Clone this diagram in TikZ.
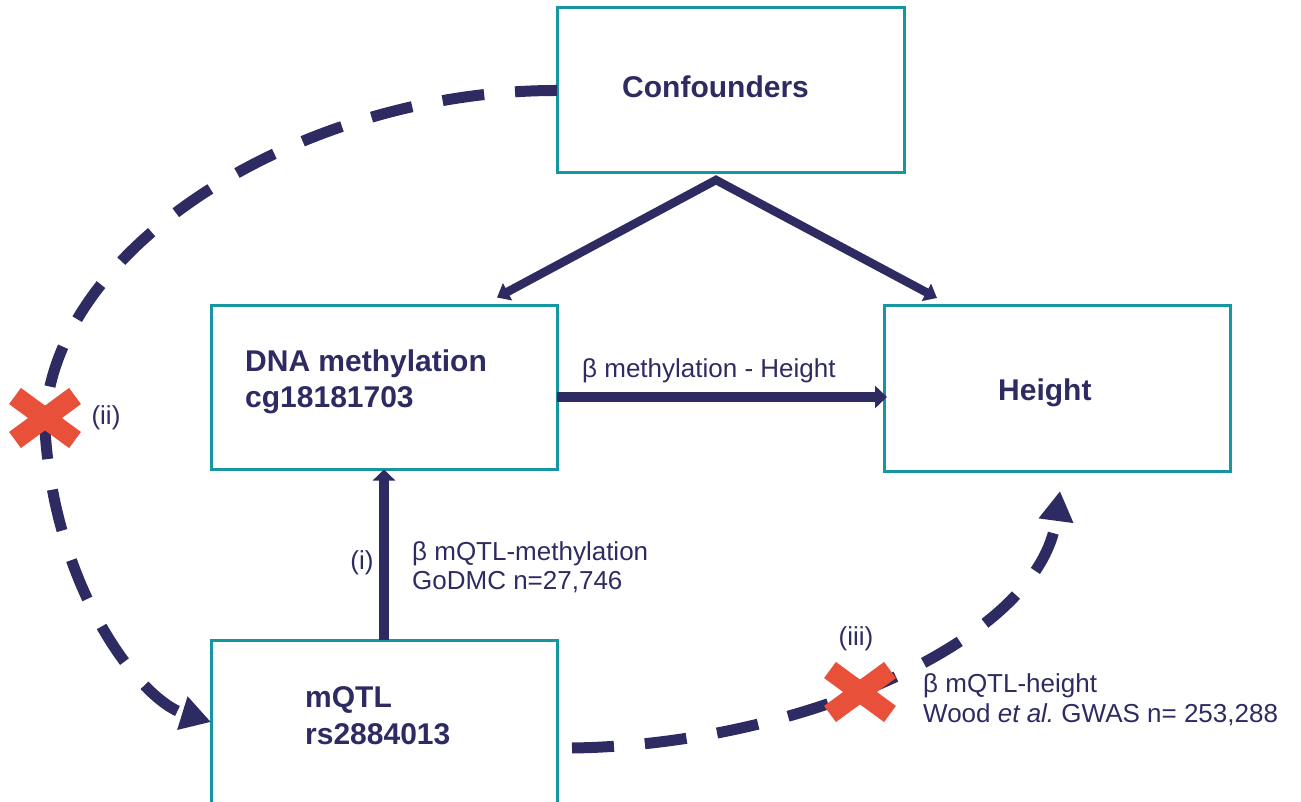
\documentclass[tikz,border=0pt]{standalone}
\usepackage{fontspec}
\setmainfont{Liberation Sans}
\usetikzlibrary{arrows.meta,calc}
\definecolor{navy}{RGB}{46,43,98}
\definecolor{tealb}{RGB}{22,150,160}
\definecolor{redx}{RGB}{233,80,58}
\begin{document}
\begin{tikzpicture}[x=1pt,y=-1pt,
  box/.style={draw=tealb,line width=3pt,minimum width=346pt,minimum height=164pt,inner sep=0pt,outer sep=0pt,fill=white},
  btxt/.style={font=\fontsize{30}{36}\selectfont\bfseries,text=navy,inner sep=0pt,anchor=base west},
  rtxt/.style={font=\fontsize{26}{30}\selectfont,text=navy,inner sep=0pt,anchor=base west},
  ctxt/.style={font=\fontsize{26}{30}\selectfont,text=navy,inner sep=0pt,anchor=center},
  solidarr/.style={draw=navy,line width=#1},
  dasharr/.style={draw=navy,line width=11pt,dash pattern=on 42pt off 31pt,-{Triangle[length=30pt,width=33pt]}},
  cross/.style={draw=redx,line width=20pt}
]
\useasboundingbox (0,0) rectangle (1301,802);
% boxes
\node[box,minimum width=347pt,minimum height=165pt] (conf) at (730.5,90.5) {};
\node[box] (dna) at (384,387.5) {};
\node[box,minimum height=165pt] (height) at (1057,388.5) {};
\node[box] (mqtl) at (384,722) {};
% box texts
\node[btxt] (tconf) at (622,98) {Confounders};
\node[btxt] (tdna1) at (245,371) {DNA methylation};
\node[btxt] (tdna2) at (245,407) {cg18181703};
\node[btxt] (theight) at (998,400) {Height};
\node[btxt] (tmq1) at (305,707) {mQTL};
\node[btxt] (tmq2) at (305,744) {rs2884013};
% solid arrows
\coordinate (apex) at ($(conf.south)+(-14.5,7)$);
\draw[solidarr=8.5pt,line join=miter,{Triangle[length=12pt,width=19pt]}-{Triangle[length=12pt,width=19pt]}]
  ($(dna.north)+(113,-8)$) -- (apex) -- ($(height.west)+(53,-90.5)$);
\draw[solidarr=10pt,-{Triangle[length=12pt,width=22pt]}] ($(dna.east)+(0,9.5)$) -- ($(height.west)+(3,8.5)$);
\draw[solidarr=10pt,-{Triangle[length=11pt,width=22pt]}] (mqtl.north) -- (dna.south);
% dashed arrows
\draw[dasharr] (conf.west) .. controls (300,90) and (45,250) .. (45,430)
  .. controls (55,590) and (140,700) .. (mqtl.west);
\draw[dasharr] ($(mqtl.east)+(15,26)$) .. controls (800,745) and (1040,640) .. ($(height.south)+(3,20)$);
% crosses
\coordinate (xa) at (45,418);
\coordinate (xb) at (860,692);
\foreach \c in {xa,xb}{
  \draw[cross] ($(\c)+(-30,-22)$) -- ($(\c)+(30,22)$);
  \draw[cross] ($(\c)+(-30,22)$) -- ($(\c)+(30,-22)$);
}
% labels
\node[rtxt] (lmh) at (582,377) {β methylation - Height};
\node[rtxt] (lmm1) at (412,560) {β mQTL-methylation};
\node[rtxt] (lmm2) at (412,589) {GoDMC n=27,746};
\node[rtxt] (lqh1) at (923,692) {β mQTL-height};
\node[rtxt] (lqh2) at (923,722) {Wood {\itshape et al.}\ GWAS n= 253,288};
\node[ctxt] (li) at (362,563) {(i)};
\node[ctxt] (lii) at (106,418) {(ii)};
\node[ctxt] (liii) at (856,639) {(iii)};
\end{tikzpicture}
\end{document}
